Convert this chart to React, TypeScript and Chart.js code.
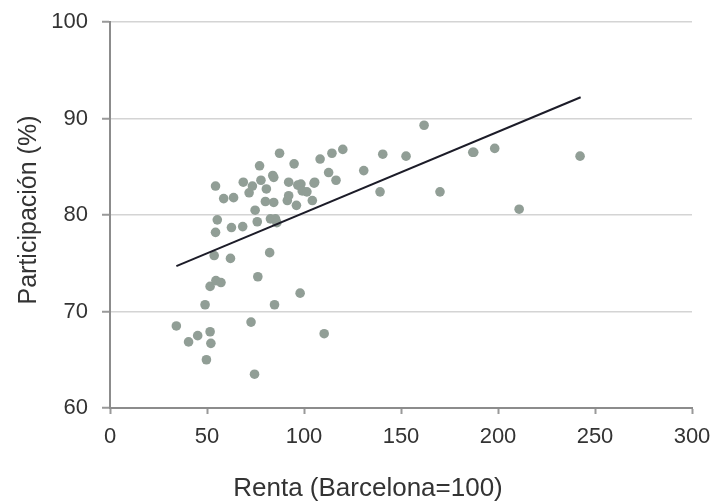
import React, { useEffect, useRef } from "react";
import { Chart, registerables } from "chart.js";

Chart.register(...registerables);

const rentaValues = [
  34.2, 40.5, 45.2, 49.0, 49.7, 51.6, 52.0, 51.6, 54.4, 55.3,
  54.4, 53.7, 54.6, 57.2, 58.6, 63.7, 62.1, 62.6, 68.4, 68.7,
  71.7, 73.4, 72.7, 74.5, 74.8, 75.9, 76.2, 77.1, 77.8, 80.1,
  80.6, 82.3, 82.7, 83.9, 84.4, 84.4, 84.8, 85.3, 86.0, 87.4,
  91.4, 92.1, 92.1, 94.9, 96.1, 96.8, 98.0, 98.4, 99.1, 101.5,
  104.3, 105.5, 105.2, 108.3, 110.4, 112.7, 114.4, 116.5, 120.0, 130.8,
  139.2, 140.6, 152.6, 161.9, 170.1, 187.0, 187.5, 198.3, 210.9, 242.3,
];

const participacionValues = [
  68.5, 66.85, 67.5, 70.7, 65.0, 67.9, 66.7, 72.6, 83.0, 79.5,
  78.2, 75.8, 73.2, 73.0, 81.7, 81.8, 75.5, 78.7, 78.8, 83.4,
  82.3, 83.0, 68.9, 63.5, 80.5, 79.3, 73.6, 85.1, 83.6, 81.4,
  82.7, 76.1, 79.6, 84.1, 83.9, 81.3, 70.7, 79.6, 79.2, 86.4,
  81.5, 82.0, 83.4, 85.3, 81.0, 83.1, 71.9, 83.2, 82.5, 82.4,
  81.5, 83.4, 83.3, 85.8, 67.7, 84.4, 86.4, 83.6, 86.8, 84.6,
  82.4, 86.3, 86.1, 89.3, 82.4, 86.5, 86.5, 86.9, 80.6, 86.1,
];

const trendX = [34.2, 242.6];
const trendY = [74.7, 92.2];

const xTicks = [0, 50, 100, 150, 200, 250, 300];
const yTicks = [60, 70, 80, 90, 100];

const xTitle = "Renta (Barcelona=100)";
const yTitle = "Participación (%)";

const FONT = "'Liberation Sans', Arial, sans-serif";

const axisTitles = {
  id: "axisTitles",
  afterDraw(chart: any) {
    const ctx = chart.ctx as CanvasRenderingContext2D;
    ctx.save();
    ctx.fillStyle = "#333333";
    ctx.textAlign = "center";
    ctx.textBaseline = "middle";
    ctx.font = `26px ${FONT}`;
    ctx.fillText(xTitle, 368, 489);
    ctx.translate(29, 210);
    ctx.rotate(-Math.PI / 2);
    ctx.font = `25px ${FONT}`;
    ctx.fillText(yTitle, 0, 0);
    ctx.restore();
  },
};

export default function App() {
  const canvasRef = useRef<HTMLCanvasElement | null>(null);

  useEffect(() => {
    if (!canvasRef.current) return;
    const chart = new Chart(canvasRef.current, {
      type: "scatter",
      data: {
        datasets: [
          {
            label: "Municipios",
            data: rentaValues.map((x, i) => ({ x, y: participacionValues[i] })),
            backgroundColor: "#919e96",
            borderColor: "#919e96",
            pointRadius: 4.8,
            pointBorderWidth: 0,
            order: 2,
          },
          {
            type: "line",
            label: "Tendencia",
            data: trendX.map((x, i) => ({ x, y: trendY[i] })),
            borderColor: "#1c1c28",
            borderWidth: 2,
            pointRadius: 0,
            fill: false,
            order: 1,
          } as any,
        ],
      },
      options: {
        animation: false,
        responsive: false,
        layout: { padding: { top: 22, right: 30, left: 0, bottom: 0 } },
        plugins: { legend: { display: false }, tooltip: { enabled: false } },
        scales: {
          x: {
            type: "linear",
            min: 0,
            max: 300,
            afterFit: (s: any) => {
              s.height = 96;
              s.paddingLeft = 0;
              s.paddingRight = 0;
            },
            afterBuildTicks: (s: any) => {
              s.ticks = xTicks.map((v) => ({ value: v }));
            },
            ticks: {
              color: "#333333",
              font: { family: FONT, size: 22 },
              padding: 10,
              maxRotation: 0,
            },
            grid: {
              drawOnChartArea: false,
              tickLength: 6,
              tickColor: "#999999",
              tickWidth: 2,
            },
            border: { color: "#8c8c8c", width: 2 },
            title: { display: false, text: xTitle },
          },
          y: {
            type: "linear",
            min: 60,
            max: 100,
            afterFit: (s: any) => {
              s.width = 110;
              s.paddingTop = 0;
              s.paddingBottom = 0;
            },
            afterBuildTicks: (s: any) => {
              s.ticks = yTicks.map((v) => ({ value: v }));
            },
            ticks: {
              color: "#333333",
              font: { family: FONT, size: 22 },
              padding: 14,
            },
            grid: {
              color: "#d4d4d4",
              lineWidth: 1.5,
              tickLength: 8,
              tickColor: "#999999",
              tickWidth: 2,
            },
            border: { color: "#8c8c8c", width: 2 },
            title: { display: false, text: yTitle },
          },
        },
      },
      plugins: [axisTitles],
    });
    return () => chart.destroy();
  }, []);

  return (
    <div style={{ position: "fixed", left: 0, top: 0, width: 722, height: 504, background: "#ffffff" }}>
      <canvas ref={canvasRef} width={722} height={504} style={{ width: 722, height: 504 }} />
    </div>
  );
}
